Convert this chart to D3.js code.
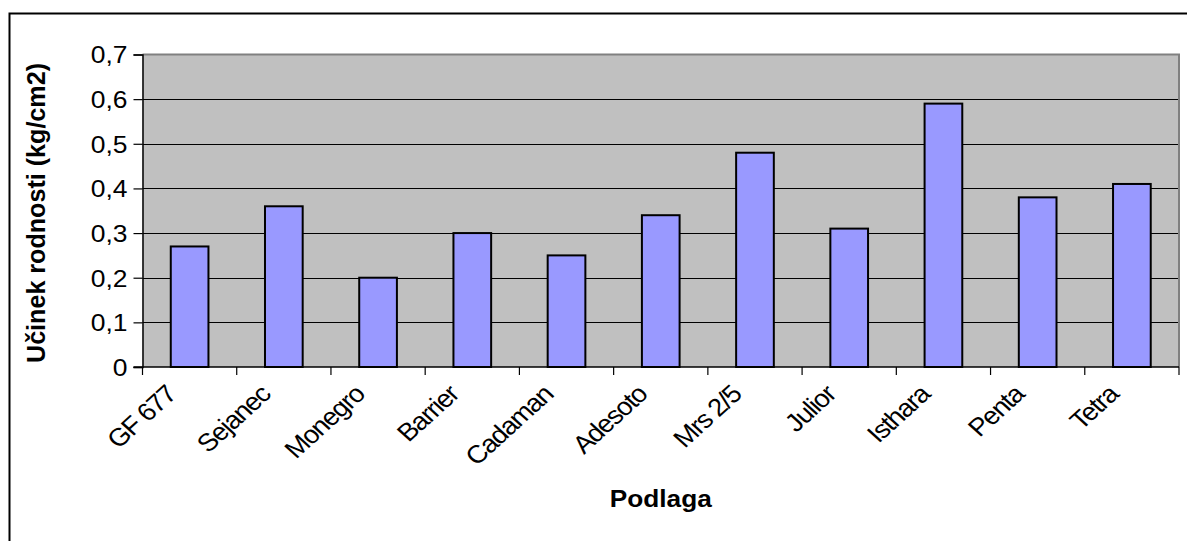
<!DOCTYPE html>
<html>
<head>
<meta charset="utf-8">
<script src="https://cdn.jsdelivr.net/npm/d3@7"></script>
<style>
  html, body { margin: 0; padding: 0; background: #fff; }
  svg { display: block; font-family: "Liberation Sans", Arial, sans-serif; }
</style>
</head>
<body>
<svg id="chart" width="1187" height="541"></svg>
<script>
// Rootstock names and the measured effect on fruit set
const categories = ["GF 677", "Sejanec", "Monegro", "Barrier", "Cadaman", "Adesoto",
                    "Mrs 2/5", "Julior", "Isthara", "Penta", "Tetra"];
const values = [0.27, 0.36, 0.2, 0.3, 0.25, 0.34, 0.48, 0.31, 0.59, 0.38, 0.41];
const yTicks = [0, 0.1, 0.2, 0.3, 0.4, 0.5, 0.6, 0.7];
const yTitle = "Učinek rodnosti  (kg/cm2)";
const xTitle = "Podlaga";

const svg = d3.select("#chart");
const plot = { left: 142.5, right: 1179, top: 54.5, bottom: 367 };

// outer chart frame (runs past the right and bottom edges)
svg.append("rect")
  .attr("x", 9.5).attr("y", 13.5)
  .attr("width", 1200).attr("height", 600)
  .attr("fill", "none").attr("stroke", "#000").attr("stroke-width", 2);

const x = d3.scaleBand().domain(categories).range([plot.left, plot.right])
  .paddingInner(0).paddingOuter(0);
const y = d3.scaleLinear().domain([0, 0.7]).range([plot.bottom, plot.top]);

// plot background
svg.append("rect")
  .attr("x", plot.left).attr("y", plot.top)
  .attr("width", plot.right - plot.left).attr("height", plot.bottom - plot.top)
  .attr("fill", "#c0c0c0");

// horizontal gridlines
svg.append("g").selectAll("line").data(yTicks.filter(d => d > 0 && d < 0.7)).join("line")
  .attr("x1", plot.left).attr("x2", plot.right)
  .attr("y1", d => Math.round(y(d)) + 0.5).attr("y2", d => Math.round(y(d)) + 0.5)
  .attr("stroke", "#000").attr("stroke-width", 1.2);

// plot border top / right in grey
svg.append("path")
  .attr("d", `M${plot.left},${plot.top} H${plot.right} V${plot.bottom}`)
  .attr("fill", "none").attr("stroke", "#808080").attr("stroke-width", 2);

// bars (gap width 150%)
const barW = x.bandwidth() / 2.5;
svg.append("g").selectAll("rect").data(values).join("rect")
  .attr("x", (d, i) => x(categories[i]) + (x.bandwidth() - barW) / 2)
  .attr("y", d => y(d))
  .attr("width", barW)
  .attr("height", d => y(0) - y(d))
  .attr("fill", "#9999ff")
  .attr("stroke", "#000").attr("stroke-width", 2);

// y axis
const yAxis = svg.append("g")
  .attr("transform", `translate(${plot.left},0)`)
  .call(d3.axisLeft(y).tickValues(yTicks).tickSize(9).tickPadding(6)
        .tickFormat(d => d3.format(".1~f")(d).replace(".", ",")));
yAxis.select(".domain").attr("stroke", "#000").attr("stroke-width", 1.5);
yAxis.selectAll(".tick line").attr("stroke", "#000").attr("stroke-width", 1.2);
yAxis.selectAll(".tick text")
  .attr("font-size", 23).attr("fill", "#000")
  .attr("font-family", "Liberation Sans, Arial, sans-serif")
  .attr("dy", "0.36em")
  .attr("transform", function () {
    const xx = +d3.select(this).attr("x");
    return `translate(${xx},0) scale(1.15,1) translate(${-xx},0)`;
  });

// x axis: ticks on category boundaries
const xAxisG = svg.append("g");
xAxisG.append("line")
  .attr("x1", plot.left - 9).attr("x2", plot.right)
  .attr("y1", plot.bottom).attr("y2", plot.bottom)
  .attr("stroke", "#000").attr("stroke-width", 1.5);
const bounds = categories.map(c => x(c)).concat([plot.right]);
xAxisG.selectAll("line.tk").data(bounds).join("line").attr("class", "tk")
  .attr("x1", d => d).attr("x2", d => d)
  .attr("y1", plot.bottom).attr("y2", plot.bottom + 8)
  .attr("stroke", "#000").attr("stroke-width", 1.2);

xAxisG.selectAll("text").data(categories).join("text")
  .attr("text-anchor", "end")
  .attr("font-size", 25)
  .attr("fill", "#000")
  .attr("letter-spacing", -1.2)
  .attr("transform", d => `translate(${x(d) + x.bandwidth() / 2 - 12},${plot.bottom + 29}) scale(1.1,1) rotate(-45)`)
  .text(d => d);

// axis titles
svg.append("text")
  .attr("transform", `translate(45,213) rotate(-90)`)
  .attr("text-anchor", "middle")
  .attr("font-size", 26).attr("font-weight", "bold")
  .attr("textLength", 300).attr("lengthAdjust", "spacingAndGlyphs")
  .text(yTitle);

svg.append("text")
  .attr("x", (plot.left + plot.right) / 2).attr("y", 507)
  .attr("text-anchor", "middle")
  .attr("font-size", 24).attr("font-weight", "bold")
  .attr("textLength", 102).attr("lengthAdjust", "spacingAndGlyphs")
  .text(xTitle);
</script>
</body>
</html>
